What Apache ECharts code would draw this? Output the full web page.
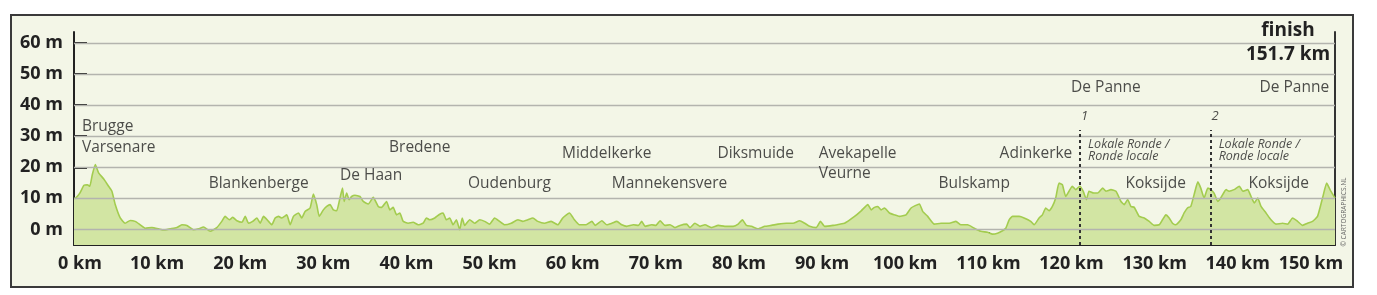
<!DOCTYPE html>
<html><head><meta charset="utf-8">
<script src="https://cdn.jsdelivr.net/npm/echarts@6/dist/echarts.min.js"></script>
<style>html,body{margin:0;padding:0;background:#fff}#c{width:1377px;height:295px}</style>
</head><body><div id="c"></div>
<script>
// ---- data ----
const kms = [0,0.2,0.7,1.2,1.6,1.9,2.2,2.56,2.96,3.56,4.16,4.56,4.96,5.56,6.16,6.76,7.36,7.97,8.57,9.37,10.17,10.77,11.57,12.37,12.98,13.58,14.38,14.98,15.58,16.38,17.18,17.78,18.18,18.7,19.1,19.6,20.2,20.6,21.0,21.5,22.0,22.4,22.8,23.4,23.8,24.2,24.6,25.0,25.6,26.0,26.4,27.0,27.4,27.8,28.4,28.8,29.2,29.5,30.0,30.4,30.8,31.2,31.6,32.0,32.3,32.5,32.8,33.1,33.4,33.8,34.4,34.8,35.4,36.0,36.6,37.0,37.6,38.0,38.4,38.8,39.2,39.6,40.2,40.8,41.4,42.0,42.4,42.8,43.4,44.0,44.4,44.8,45.2,45.6,46.0,46.4,46.7,47.0,47.6,48.2,48.8,49.4,50.0,50.6,51.2,51.8,52.6,53.4,54.0,54.6,55.2,55.8,56.6,57.4,58.2,58.8,59.6,60.2,60.8,61.6,62.3,62.7,63.5,64.1,64.7,65.3,65.9,66.5,67.3,67.9,68.3,68.7,69.5,70.0,70.5,71.1,71.7,72.3,72.9,73.7,74.1,74.7,75.3,75.9,76.7,77.5,78.3,79.3,79.9,80.4,80.9,81.5,82.3,83.1,83.9,84.7,85.7,86.5,87.3,87.9,88.5,89.3,89.8,90.3,91.3,92.1,92.7,93.9,94.7,95.5,95.9,96.3,96.7,97.1,97.5,98.1,98.7,99.3,100.1,100.7,101.7,102.1,102.7,103.5,104.3,105.3,106.1,106.7,107.5,108.3,109.1,109.9,110.5,111.1,111.7,112.1,112.5,112.9,113.7,114.3,115.1,115.5,116.1,116.5,116.9,117.3,117.7,118.1,118.5,118.9,119.3,119.7,120.1,120.5,121.0,121.4,121.8,122.1,122.7,123.15,123.75,124.15,124.75,125.35,125.95,126.35,126.75,127.15,127.55,128.15,128.75,129.35,129.95,130.55,130.95,131.35,131.75,132.15,132.55,133.15,133.55,133.95,134.35,134.75,135.2,135.55,135.95,136.4,136.75,137.15,137.6,137.95,138.6,138.95,139.55,140.2,140.6,141.2,141.6,142.0,142.4,142.8,143.4,144.0,144.6,145.4,146.0,146.6,147.2,147.8,148.4,149.0,149.6,150.2,150.7,151.2,151.7];
const elev = [10.0,10.1,11.7,14.2,14.4,13.9,17.6,20.9,18.2,16.3,13.9,12.3,8.0,3.7,2.0,2.9,2.6,1.5,0.4,0.6,0.2,-0.2,0.2,0.6,1.5,1.3,-0.1,0.2,0.8,-0.6,0.6,2.6,4.2,3.1,3.9,2.8,2.3,4.2,2.0,2.6,3.7,2.0,4.2,2.6,1.5,3.7,4.2,3.7,4.7,1.5,4.2,5.3,3.7,5.8,6.9,11.4,8.0,4.2,6.3,7.4,8.0,6.3,6.0,10.1,13.3,9.0,11.7,9.6,10.6,11.0,10.6,9.0,8.2,10.3,7.4,7.1,9.0,6.3,7.1,4.7,5.3,2.6,2.0,2.3,1.5,2.0,3.7,3.1,3.7,4.9,5.3,3.1,3.7,1.5,3.1,-0.1,3.7,1.3,3.1,2.0,3.1,2.6,1.7,3.7,2.6,1.5,2.0,3.1,2.6,3.1,3.7,2.6,2.0,2.6,1.5,3.7,5.3,3.1,1.5,1.5,2.6,1.3,2.8,1.5,2.0,2.6,1.5,1.0,1.5,1.3,2.6,1.0,1.5,1.3,2.8,1.3,1.5,0.6,1.3,1.7,0.6,2.0,1.0,1.5,0.6,1.3,1.0,1.0,1.7,3.1,1.3,1.0,0.2,1.0,1.3,1.7,2.0,2.0,2.8,2.0,1.0,0.6,2.6,1.0,1.3,1.7,2.0,4.2,6.0,8.0,6.3,7.1,7.4,6.3,6.9,5.3,4.7,4.2,4.7,6.9,8.2,5.8,4.2,1.7,2.0,2.0,2.6,1.5,1.5,0.4,-0.6,-0.9,-1.5,-1.2,-0.4,0.4,3.1,4.2,4.2,3.7,2.6,1.5,3.7,4.7,6.9,6.0,7.4,10.1,14.9,14.4,10.6,12.3,13.9,12.8,13.9,12.3,9.6,12.3,11.7,11.7,13.3,12.3,12.8,12.3,9.0,8.0,9.6,7.4,7.1,4.2,3.7,2.6,1.3,1.5,3.1,4.7,3.7,2.0,1.5,3.1,5.3,6.9,7.4,11.2,15.3,13.3,10.1,13.3,12.8,11.7,9.0,10.1,12.8,12.3,12.8,13.9,12.3,12.8,10.6,8.5,10.1,7.4,5.3,3.1,1.7,2.0,1.7,3.7,2.6,1.3,2.0,2.6,4.2,10.1,14.9,12.3,10.1];
const xTicks = [0,10,20,30,40,50,60,70,80,90,100,110,120,130,140,150];
const yTicks = [0,10,20,30,40,50,60];
const totalKm = 151.7;
const townNames = ['Brugge','Varsenare','Blankenberge','De Haan','Bredene','Oudenburg','Middelkerke','Mannekensvere','Diksmuide','Avekapelle','Veurne','Bulskamp','Adinkerke','De Panne','Koksijde','Koksijde','De Panne'];
const townKm    = [0.96,0.96,16.2,32.0,37.9,47.4,58.7,64.7,77.4,89.6,89.6,104.0,120.1,119.95,126.5,141.3,151.0];
const loopKm = [121.0, 136.7];
const loopNames = ['1','2'];
const loopText = 'Lokale Ronde /\nRonde locale';
</script>
<script>
// ---- layout (label rows in metres, alignment) ----
const townRowM  = [33.2,26.4,14.6,17.3,26.4,14.6,24.5,14.6,24.5,24.5,18.0,14.6,24.5,45.5,14.6,14.6,45.5];
const townSide  = ['r','r','r','r','r','r','r','r','r','r','r','r','l','r','r','r','l'];

const chart = echarts.init(document.getElementById('c'), null, {renderer:'canvas'});
const FONT = '"Open Sans", "Noto Sans", sans-serif';
const ink = '#222';

const townData = townNames.map((n,i)=>({
  name:n, value:[townKm[i], townRowM[i]],
  label:{position: townSide[i]==='l' ? 'left' : 'right'}
}));
const loopNumData = loopNames.map((n,i)=>({name:n, value:[loopKm[i]+0.15, 36.4]}));
const loopTxtData = loopKm.map(k=>({name:loopText, value:[k+1.0, 25.4]}));

chart.setOption({
  animation:false,
  backgroundColor:'#fff',
  grid:{left:74, right:42, top:32, bottom:50, containLabel:false},
  xAxis:{
    type:'value', min:0, max:totalKm, interval:10,
    axisLine:{show:true, onZero:false, lineStyle:{color:'#222', width:2}},
    axisTick:{show:true, inside:true, length:13, customValues:xTicks, lineStyle:{color:'#222', width:2}},
    splitLine:{show:false},
    axisLabel:{
      customValues:xTicks, margin:10,
      fontFamily:FONT, fontWeight:'bold', fontSize:18, color:ink,
      formatter:v=> v===0 ? '{a|0 km}' : (v===150 ? '{b|150 km}' : v+' km'),
      rich:{
        a:{fontFamily:FONT, fontWeight:'bold', fontSize:18, color:ink, padding:[0,0,0,12]},
        b:{fontFamily:FONT, fontWeight:'bold', fontSize:18, color:ink, padding:[0,20,0,0]}
      }
    }
  },
  yAxis:[{
    type:'value', min:-5, max:63.5,
    axisLine:{show:true, onZero:false, lineStyle:{color:'#222', width:2}},
    axisTick:{show:true, inside:true, length:13, customValues:yTicks, lineStyle:{color:'#222', width:2}},
    splitLine:{show:false},
    axisLabel:{customValues:yTicks, margin:11, fontFamily:FONT, fontWeight:'bold', fontSize:18, color:ink,
      formatter:v=>v+' m'}
  },{
    type:'value', min:-5, max:63.5, position:'right',
    axisLine:{show:true, onZero:false, lineStyle:{color:'#333', width:2}},
    axisTick:{show:false}, axisLabel:{show:false}, splitLine:{show:false}
  }],
  graphic:[
    {type:'rect', z:-10, shape:{x:11, y:15, width:1342, height:272},
     style:{fill:'#f3f6e7', stroke:'#3a3a3a', lineWidth:2}},
    {type:'text', x:1288, y:31, style:{text:'finish', fontFamily:FONT, fontWeight:'bold', fontSize:19, fill:ink, align:'center', verticalAlign:'middle'}},
    {type:'text', x:1288, y:55, style:{text:totalKm+' km', fontFamily:FONT, fontWeight:'bold', fontSize:19, fill:ink, align:'center', verticalAlign:'middle'}},
    {type:'text', x:1344, y:212, rotation:Math.PI/2, style:{text:'© CARTOGRAPHICS.NL', fontFamily:FONT, fontSize:6.5, fill:'#666', align:'center', verticalAlign:'middle'}}
  ],
  series:[
    {
      type:'line', data:kms.map((k,i)=>[k, elev[i]]), showSymbol:false, symbol:'none',
      smooth:0.15, silent:true,
      lineStyle:{color:'#a3cc4f', width:1.6},
      areaStyle:{color:'#d2e5a3', opacity:1, origin:'start'},
      markLine:{
        silent:true, symbol:'none', label:{show:false}, animation:false,
        lineStyle:{color:'#b3b4ae', width:1.3, type:'solid'},
        data: yTicks.map(v=>({yAxis:v}))
      },
      z:2
    },
    {
      type:'scatter', silent:true, clip:false, symbolSize:0, z:5,
      itemStyle:{color:'rgba(0,0,0,0)'},
      data:townData,
      label:{show:true, distance:0, formatter:'{b}', fontFamily:FONT, fontSize:15.5, color:ink},
      markLine:{
        silent:true, symbol:'none', label:{show:false}, animation:false,
        lineStyle:{color:'#333', width:2, type:[3,3]},
        data: loopKm.map(k=>[{coord:[k,-5]},{coord:[k,32]}])
      }
    },
    {
      type:'scatter', silent:true, clip:false, symbolSize:0, z:5,
      itemStyle:{color:'rgba(0,0,0,0)'},
      data:loopNumData,
      label:{show:true, position:'right', distance:0, formatter:'{b}', fontFamily:FONT, fontStyle:'italic', fontSize:13, color:ink}
    },
    {
      type:'scatter', silent:true, clip:false, symbolSize:0, z:5,
      itemStyle:{color:'rgba(0,0,0,0)'},
      data:loopTxtData,
      label:{show:true, position:'right', distance:0, formatter:'{b}', fontFamily:FONT, fontStyle:'italic', fontSize:12.5, lineHeight:11.5, color:ink}
    }
  ]
});
</script>
</body></html>
